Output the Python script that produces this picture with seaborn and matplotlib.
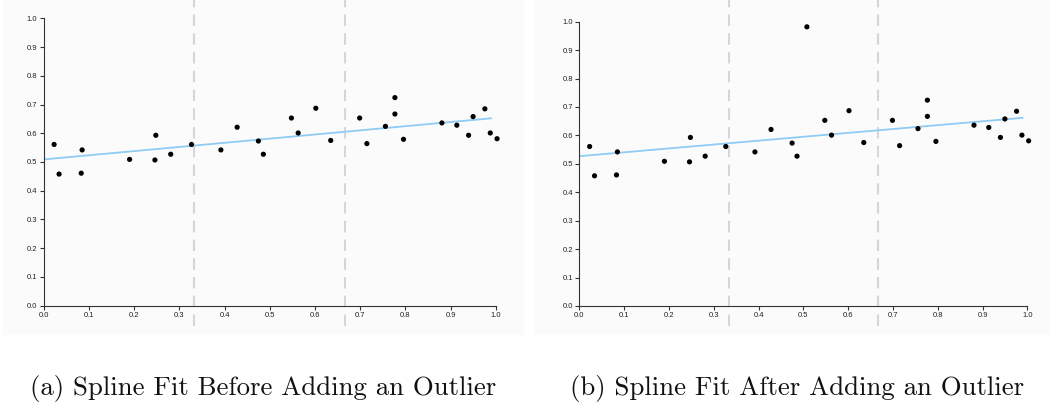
import matplotlib
matplotlib.use("Agg")
import matplotlib.pyplot as plt
from matplotlib.patches import Rectangle
import seaborn as sns
import pandas as pd

# ---- data ----
x_pts = [0.023, 0.034, 0.083, 0.085, 0.190, 0.246, 0.248, 0.281, 0.327, 0.392,
         0.428, 0.475, 0.486, 0.548, 0.563, 0.602, 0.635, 0.699, 0.715, 0.756,
         0.777, 0.777, 0.796, 0.881, 0.914, 0.940, 0.950, 0.976, 0.988, 1.003]
y_pts = [0.561, 0.458, 0.461, 0.542, 0.509, 0.507, 0.593, 0.527, 0.561, 0.542,
         0.621, 0.573, 0.527, 0.653, 0.601, 0.687, 0.575, 0.653, 0.564, 0.624,
         0.724, 0.667, 0.579, 0.636, 0.628, 0.593, 0.658, 0.685, 0.601, 0.581]
outlier_x = [0.508]
outlier_y = [0.982]

fit_x = [0.0, 0.99]
fit_before_y = [0.509, 0.652]
fit_after_y = [0.527, 0.662]

knots = [1 / 3, 2 / 3]
x_ticks = [0.0, 0.1, 0.2, 0.3, 0.4, 0.5, 0.6, 0.7, 0.8, 0.9, 1.0]
y_ticks = [0.0, 0.1, 0.2, 0.3, 0.4, 0.5, 0.6, 0.7, 0.8, 0.9, 1.0]
captions = ["(a) Spline Fit Before Adding an Outlier",
            "(b) Spline Fit After Adding an Outlier"]

# ---- style ----
sns.set_theme(style="ticks")
plt.rcParams["font.family"] = ["Liberation Sans", "DejaVu Sans"]

W, H = 1052, 408
fig = plt.figure(figsize=(W / 100, H / 100), dpi=100, facecolor="white")

# faint panel backgrounds
for (x0, x1) in [(3, 524), (535, 1050)]:
    fig.patches.append(Rectangle((x0 / W, 1 - 335 / H), (x1 - x0) / W, 335 / H,
                                 transform=fig.transFigure, facecolor="#fbfbfb",
                                 edgecolor="none", zorder=-5))

axes_px = [(43.7, 452.0, 305.7, 287.4), (579.3, 448.0, 306.0, 284.3)]
datasets = [
    (pd.DataFrame({"x": x_pts, "y": y_pts}), fit_before_y),
    (pd.DataFrame({"x": x_pts + outlier_x, "y": y_pts + outlier_y}), fit_after_y),
]

for i, ((lx, w, by, h), (df, fit_y)) in enumerate(zip(axes_px, datasets)):
    ax = fig.add_axes([lx / W, (H - by) / H, w / W, h / H])
    ax.set_facecolor("none")
    ax.set_zorder(1)
    fit_df = pd.DataFrame({"x": fit_x, "y": fit_y})
    sns.lineplot(data=fit_df, x="x", y="y", ax=ax, color="#8fcbf3", linewidth=1.3,
                 zorder=2)
    sns.scatterplot(data=df, x="x", y="y", ax=ax, color="black", s=14,
                    edgecolor="none", zorder=3, clip_on=False)
    top = by / h
    bot = -(326 - by) / h
    for k in knots:
        ax.axvline(k, ymin=bot, ymax=top, color="#d6d6d6", linewidth=1.5,
                   linestyle=(0, (5.5, 3.5)), clip_on=False, zorder=1)
    ax.set_xlim(0, 1)
    ax.set_ylim(0, 1)
    ax.set_xticks(x_ticks)
    ax.set_yticks(y_ticks)
    ax.set_xticklabels([f"{t:.1f}" for t in x_ticks])
    ax.set_yticklabels([f"{t:.1f}" for t in y_ticks])
    ax.set_xlabel("")
    ax.set_ylabel("")
    for side in ["top", "right"]:
        ax.spines[side].set_visible(False)
    for side in ["left", "bottom"]:
        ax.spines[side].set_color("#333333")
        ax.spines[side].set_linewidth(0.8)
    ax.tick_params(axis="both", length=3, width=0.8, color="#333333",
                   labelsize=5.5, labelcolor="#222222", pad=1.5)
    fig.text([263, 797][i] / W, 1 - 388 / H, captions[i], family="cmr10",
             fontsize=19.3, ha="center", va="center", color="#111111")

fig.savefig("out.png", dpi=100, facecolor="white")
